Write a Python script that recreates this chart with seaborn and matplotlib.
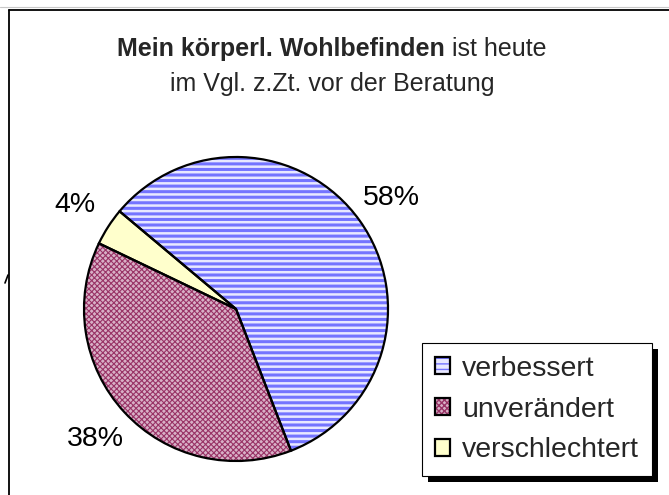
import matplotlib
matplotlib.use("Agg")
import matplotlib.pyplot as plt
import seaborn as sns
from matplotlib.lines import Line2D
from matplotlib.patches import Rectangle
from matplotlib.legend_handler import HandlerTuple

categories = ["verbessert", "unverändert", "verschlechtert"]
values = [58, 38, 4]
pct_labels = [f"{v}%" for v in values]

sns.set_theme(style="white")
plt.rcParams['font.family'] = ['Liberation Sans', 'DejaVu Sans']

W, H = 669, 495
fig = plt.figure(figsize=(W / 100, H / 100), dpi=100)
fig.patch.set_facecolor("white")

# pie area in pixels
cx, cy, R = 236, 309, 152
ax = fig.add_axes([(cx - R) / W, (H - cy - R) / H, 2 * R / W, 2 * R / H])
ax.axis("off")
ax.patch.set_alpha(0)

faces = ["#e8e8ff", "#d8b0c6", "#ffffcc"]
hatch_cols = ["#7474ff", "#993366", "#ffffcc"]
hatches = ["---", "xxxxxx", ""]
hatch_lw = [2.2, 0.8, 0.5]

# hatched fill layer
fill, _ = ax.pie(values, startangle=140, counterclock=False, radius=1,
                 colors=faces, wedgeprops=dict(linewidth=0))
for w, hc, h, lw in zip(fill, hatch_cols, hatches, hatch_lw):
    w.set_edgecolor(hc)
    w.set_linewidth(0)
    w.set_hatch(h)
    if hasattr(w, "set_hatch_linewidth"):
        w.set_hatch_linewidth(lw)

# outline layer with labels
outline, texts = ax.pie(values, startangle=140, counterclock=False, radius=1,
                        labels=pct_labels, labeldistance=1.26,
                        wedgeprops=dict(facecolor="none", edgecolor="black",
                                        linewidth=1.6),
                        textprops=dict(fontsize=20.5, color="black"))
for t in texts:
    t.set_ha("center")
    t.set_va("center")
ax.set_xlim(-1, 1)
ax.set_ylim(-1, 1)

# title with bold part
fig.canvas.draw()
r = fig.canvas.get_renderer()
t1 = fig.text(0, 0, "Mein körperl. Wohlbefinden", fontsize=18, weight="bold",
              ha="left", va="baseline")
t2 = fig.text(0, 0, " ist heute", fontsize=18, ha="left", va="baseline")
w1 = t1.get_window_extent(r).width
w2 = t2.get_window_extent(r).width
tcx = 332
x0 = tcx - (w1 + w2) / 2
yb = H - 56
t1.set_position((x0 / W, yb / H))
t2.set_position(((x0 + w1) / W, yb / H))
fig.text(tcx / W, (H - 91) / H, "im Vgl. z.Zt. vor der Beratung", fontsize=18,
         ha="center", va="baseline")

# frame lines
fig.add_artist(Line2D([0, 1], [1 - 7 / H, 1 - 7 / H], color="#c8c8c8", lw=0.8))
fig.add_artist(Line2D([9 / W, 1], [1 - 10 / H, 1 - 10 / H], color="black", lw=1.3))
fig.add_artist(Line2D([9 / W, 9 / W], [0, 1 - 10 / H], color="black", lw=1.3))
fig.add_artist(Line2D([5 / W, 8 / W], [1 - 283 / H, 1 - 275 / H], color="black", lw=1.2))

# legend
handles = [(f, o) for f, o in zip(fill, outline)]
leg = fig.legend(handles, categories, loc="upper left",
                 bbox_to_anchor=(422 / W, 1 - 343 / H), borderaxespad=0,
                 fontsize=20.5, frameon=True, fancybox=False, framealpha=1,
                 edgecolor="black", handlelength=0.55, handleheight=0.55,
                 handletextpad=0.4, labelspacing=0.52, borderpad=0.45,
                 handler_map={tuple: HandlerTuple(ndivide=1)})
leg.get_frame().set_linewidth(0.8)
leg.set_zorder(6)
fig.canvas.draw()
bb = leg.get_frame().get_window_extent(r)
fig.add_artist(Rectangle(((bb.x0 + 6) / W, (bb.y0 - 6) / H), bb.width / W,
                         bb.height / H, facecolor="black", edgecolor="none",
                         zorder=5))

fig.savefig("out.png", dpi=100)
